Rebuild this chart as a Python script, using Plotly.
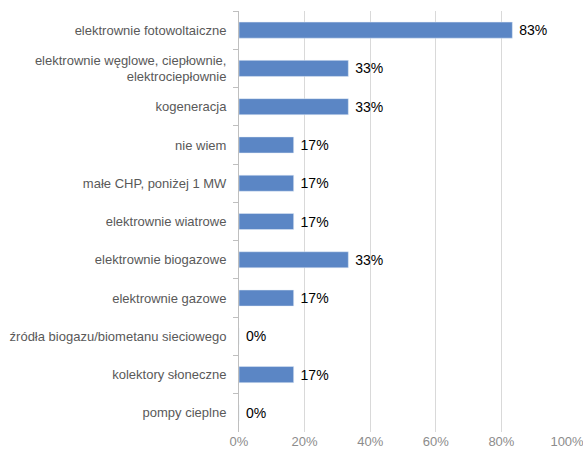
import plotly.graph_objects as go

categories = [
    "elektrownie fotowoltaiczne",
    "elektrownie węglowe, ciepłownie,<br>elektrociepłownie",
    "kogeneracja",
    "nie wiem",
    "małe CHP, poniżej 1 MW",
    "elektrownie wiatrowe",
    "elektrownie biogazowe",
    "elektrownie gazowe",
    "źródła biogazu/biometanu sieciowego",
    "kolektory słoneczne",
    "pompy cieplne",
]
shares = [5/6, 1/3, 1/3, 1/6, 1/6, 1/6, 1/3, 1/6, 0.0, 1/6, 0.0]
labels = [f" {round(v * 100):.0f}%" for v in shares]
tick_vals = [0, 0.2, 0.4, 0.6, 0.8, 1.0]
tick_text = ["0%", "20%", "40%", "60%", "80%", "100%"]

fig = go.Figure(
    go.Bar(
        x=shares,
        y=categories,
        orientation="h",
        marker=dict(color="#5b86c5"),
        text=labels,
        textposition="outside",
        textfont=dict(family="Liberation Sans, Arial", size=14, color="#000000"),
        cliponaxis=False,
        width=0.42,
    )
)

fig.update_layout(
    width=583,
    height=452,
    margin=dict(l=239, r=15, t=11, b=20),
    paper_bgcolor="white",
    plot_bgcolor="white",
    showlegend=False,
    font=dict(family="Liberation Sans, Arial", size=13, color="#595959"),
    xaxis=dict(
        range=[0, 1.003],
        tickvals=tick_vals,
        ticktext=tick_text,
        showgrid=True,
        gridcolor="#d9d9d9",
        gridwidth=1,
        zeroline=False,
        showline=False,
        ticks="",
        tickfont=dict(size=13, color="#8c8c8c"),
        ticklabeloverflow="allow",
        automargin=False,
        fixedrange=True,
    ),
    yaxis=dict(
        autorange="reversed",
        showline=True,
        linecolor="#bfbfbf",
        linewidth=1,
        ticks="outside",
        tickson="boundaries",
        ticklen=5,
        tickcolor="#bfbfbf",
        tickfont=dict(size=13, color="#595959"),
        ticklabelstandoff=9,
        showgrid=False,
        automargin=False,
        fixedrange=True,
    ),
)

fig.write_html("out.html")
